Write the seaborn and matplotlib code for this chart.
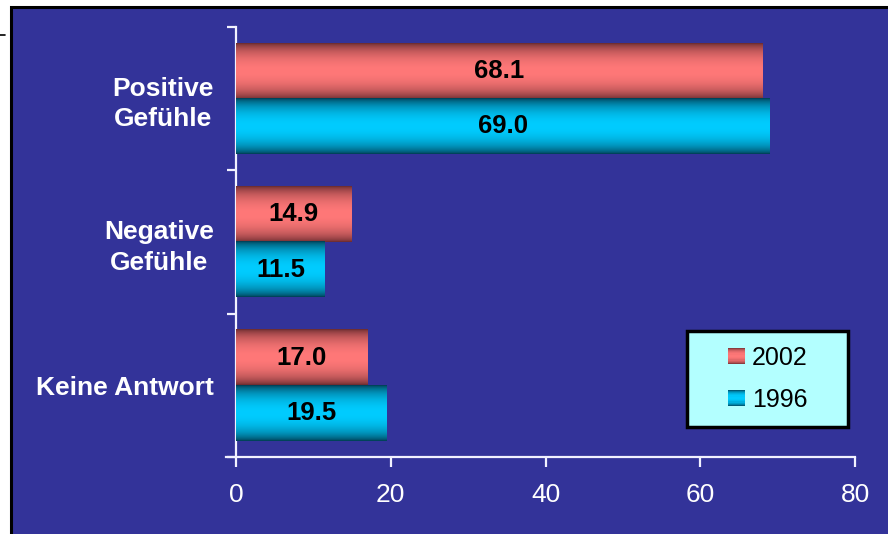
import matplotlib
matplotlib.use("Agg")
import matplotlib.pyplot as plt
import seaborn as sns
import pandas as pd
import numpy as np
from matplotlib.patches import Rectangle
from matplotlib.legend_handler import HandlerBase
from matplotlib.lines import Line2D

# ---- data ----
categories = ["Positive\nGefühle", "Negative\nGefühle", "Keine Antwort"]
years = ["2002", "1996"]
values_2002 = [68.1, 14.9, 17.0]
values_1996 = [69.0, 11.5, 19.5]
x_ticks = [0, 20, 40, 60, 80]

# ---- style ----
BG = "#333399"
AXC = "#F2F2FF"
LIGHT = {"2002": np.array([255, 120, 120]) / 255, "1996": np.array([0, 204, 255]) / 255}
DARK = {"2002": np.array([88, 34, 38]) / 255, "1996": np.array([0, 44, 62]) / 255}

sns.set_theme(style="white")
plt.rcParams["font.family"] = ["Liberation Sans", "DejaVu Sans"]


def profile(n):
    t = (np.arange(n) + 0.5) / n
    return np.clip(np.sin(np.pi * t), 0, 1) ** 0.55


def grad_colors(year, n):
    p = profile(n)[:, None]
    return DARK[year] * (1 - p) + LIGHT[year] * p


fig = plt.figure(figsize=(8.88, 5.34), dpi=100, facecolor="white")
fig.patches.append(Rectangle((11 / 888, -0.2), 1.2, 1 - 7 / 534 + 0.2,
                             transform=fig.transFigure, facecolor=BG,
                             edgecolor="black", linewidth=2.2, zorder=-5))
fig.lines.append(Line2D([0, 5 / 888], [1 - 35 / 534] * 2, transform=fig.transFigure,
                        color="black", linewidth=1.2))

ax = fig.add_axes([236 / 888, 77 / 534, 619 / 888, 430 / 534])
ax.patch.set_visible(False)

df = pd.DataFrame({
    "Kategorie": categories * 2,
    "Jahr": [years[0]] * len(categories) + [years[1]] * len(categories),
    "Wert": values_2002 + values_1996,
})

sns.barplot(data=df, x="Wert", y="Kategorie", hue="Jahr", hue_order=years,
            orient="h", width=0.77, palette={y: LIGHT[y] for y in years},
            saturation=1, errorbar=None, legend=False, linewidth=0,
            edgecolor="none", ax=ax)

# gradient overlay on every bar, using the bar geometry from the axes
for year, cont in zip(years, ax.containers):
    for bar in cont:
        bar.set_linewidth(0)
        bar.set_edgecolor("none")
        x0, y0 = bar.get_x(), bar.get_y()
        w, h = bar.get_width(), bar.get_height()
        img = grad_colors(year, 64)[:, None, :]
        ax.imshow(img, extent=[x0, x0 + w, y0 + h, y0], aspect="auto",
                  interpolation="bilinear", zorder=3)
    txts = ax.bar_label(cont, labels=[f"{b.get_width():.1f}" for b in cont],
                        label_type="center", fontsize=18.5, fontweight="bold",
                        color="black")
    for t in txts:
        t.set_zorder(6)

ax.set_xlim(0, 80)
ax.set_ylim(2.5, -0.5)
ax.set_xlabel("")
ax.set_ylabel("")

# spines
for s in ["top", "right"]:
    ax.spines[s].set_visible(False)
for s in ["left", "bottom"]:
    ax.spines[s].set_color(AXC)
    ax.spines[s].set_linewidth(1.6)
ax.spines["bottom"].set_bounds(-1.3, 80)

# x ticks
ax.set_xticks(x_ticks)
ax.set_xticklabels([str(v) for v in x_ticks])
ax.tick_params(axis="x", which="major", direction="out", length=7, width=1.6,
               color=AXC, labelcolor="white", labelsize=19, pad=12, bottom=True)

# y ticks: marks at group boundaries, labels at centres
ax.set_yticks([-0.5, 0.5, 1.5, 2.5])
ax.set_yticklabels([])
ax.tick_params(axis="y", which="major", direction="out", length=6.5, width=1.6,
               color=AXC, left=True)
ax.set_yticks(range(len(categories)), labels=categories, minor=True)
ax.tick_params(axis="y", which="minor", length=0, pad=16, labelsize=19,
               labelcolor="white")
for lbl in ax.get_yticklabels(minor=True):
    lbl.set_fontweight("bold")
    lbl.set_multialignment("center")
    lbl.set_linespacing(1.32)


# legend with gradient swatches drawn in the right part of the handle box
class GradHandler(HandlerBase):
    def __init__(self, year, frac):
        super().__init__()
        self.year = year
        self.frac = frac

    def create_artists(self, legend, orig_handle, xdescent, ydescent, width,
                       height, fontsize, trans):
        n = 14
        cols = grad_colors(self.year, n)
        sw = width * self.frac
        x = -xdescent + width - sw
        arts = []
        for i in range(n):
            r = Rectangle((x, -ydescent + height * (n - 1 - i) / n),
                          sw, height / n + 0.3, facecolor=cols[i],
                          edgecolor="none", linewidth=0, transform=trans)
            arts.append(r)
        return arts


handles = [Rectangle((0, 0), 1, 1) for _ in years]
leg = ax.legend(handles, years,
                handler_map={h: GradHandler(y, 17 / 43) for h, y in zip(handles, years)},
                loc="lower left", bbox_to_anchor=(451 / 619, 30 / 430, 161 / 619, 97 / 430),
                mode="expand", borderaxespad=0, fontsize=18, frameon=True,
                fancybox=False, framealpha=1, facecolor="#B3FFFF", edgecolor="black",
                handlelength=1.72, handleheight=0.64, handletextpad=0.28,
                labelspacing=0.72, borderpad=0.6)
leg.get_frame().set_linewidth(2.5)
leg.set_zorder(10)
for t in leg.get_texts():
    t.set_color("black")

fig.savefig("out.png", dpi=100, facecolor="white")
